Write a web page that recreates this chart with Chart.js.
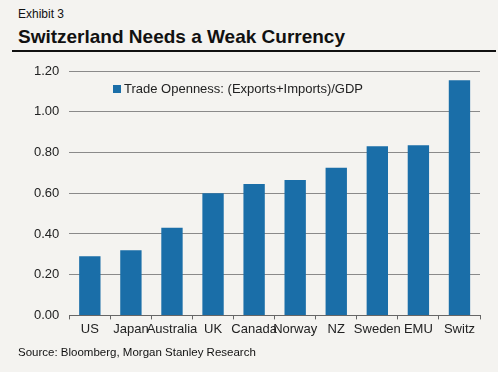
<!DOCTYPE html>
<html><head><meta charset="utf-8">
<script src="https://cdn.jsdelivr.net/npm/chart.js@4/dist/chart.umd.min.js"></script>
<style>
html,body{margin:0;padding:0;background:#f4f3f0;}
#wrap{position:relative;width:498px;height:372px;overflow:hidden;font-family:"Liberation Sans",Arial,sans-serif;color:#111;}
#exh{position:absolute;left:18px;top:7px;font-size:12px;}
#ttl{position:absolute;left:18px;top:26px;font-size:19px;font-weight:bold;}
#rule{position:absolute;left:12px;top:50px;width:484px;height:2px;background:#111;}
#src{position:absolute;left:18px;top:346px;font-size:11.5px;}
#leg{position:absolute;left:113px;top:81px;font-size:13px;color:#222;}
#leg span{display:inline-block;width:8px;height:8px;background:#1a6ea8;margin-right:3px;vertical-align:0px;}
#cv{position:absolute;left:0;top:0;}
</style></head>
<body><div id="wrap">
<div id="exh">Exhibit 3</div>
<div id="ttl">Switzerland Needs a Weak Currency</div>
<div id="rule"></div>
<canvas id="cv" width="498" height="372"></canvas>
<div id="leg"><span></span>Trade Openness: (Exports+Imports)/GDP</div>
<div id="src">Source: Bloomberg, Morgan Stanley Research</div>
</div>
<script>
const categories = ["US","Japan","Australia","UK","Canada","Norway","NZ","Sweden","EMU","Switz"];
const seriesName = "Trade Openness: (Exports+Imports)/GDP";
const tradeOpenness = [0.29,0.32,0.43,0.60,0.645,0.665,0.725,0.83,0.835,1.155];
const yTicks = [0,0.2,0.4,0.6,0.8,1.0,1.2];

new Chart(document.getElementById('cv'), {
  type:'bar',
  data:{labels:categories,datasets:[{label:seriesName,data:tradeOpenness,backgroundColor:'#1a6ea8',barPercentage:0.52,categoryPercentage:1.0}]},
  options:{
    responsive:false,animation:false,
    layout:{padding:{top:71,left:24,right:18,bottom:33}},
    plugins:{legend:{display:false},tooltip:{enabled:false}},
    scales:{
      x:{
        grid:{display:true,drawOnChartArea:false,offset:true,tickLength:4,color:'#666'},
        border:{color:'#666',width:1},
        ticks:{color:'#222',font:{family:'Liberation Sans',size:13},padding:2,maxRotation:0,autoSkip:false}
      },
      y:{
        min:0,max:1.2,
        afterBuildTicks:(a)=>{a.ticks=yTicks.map(v=>({value:v}));},
        grid:{color:'#8a8a8a',drawTicks:false},
        border:{display:false},
        ticks:{color:'#222',font:{family:'Liberation Sans',size:13},padding:10,callback:v=>v.toFixed(2)}
      }
    }
  }
});
</script></body></html>
